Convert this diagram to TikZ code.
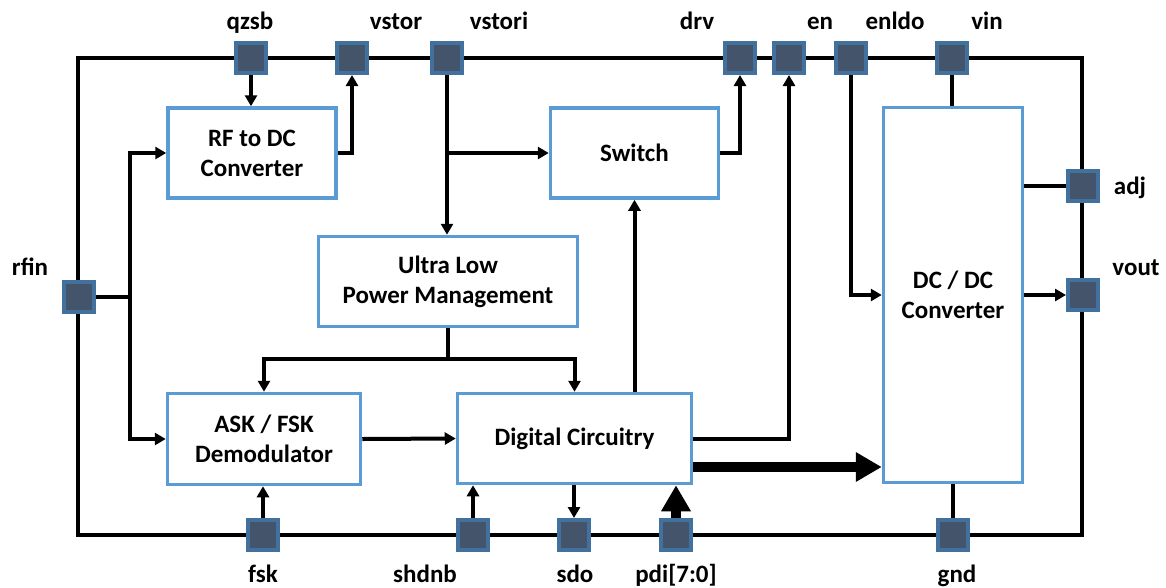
\documentclass[tikz,border=0pt]{standalone}
\usepackage{fontspec}
\setmainfont{Carlito}
\usetikzlibrary{calc,arrows.meta}
\definecolor{boxblue}{HTML}{5B9BD5}
\definecolor{pinedge}{HTML}{41719C}
\definecolor{pinfill}{HTML}{44546A}
\tikzset{%
  block/.style={rectangle,draw=boxblue,line width=3.5pt,fill=white,align=center,
    font=\bfseries\fontsize{25}{30}\selectfont},
  pin/.style={rectangle,minimum size=30pt,inner sep=0pt,draw=pinedge,line width=4pt,fill=pinfill},
  pinname/.style={anchor=base,inner sep=0pt,font=\bfseries\fontsize{25}{30}\selectfont},
  wire/.style={line width=4pt},
  sig/.style={wire,-{Triangle[length=11pt,width=12pt]}},
  bus/.style={line width=10pt,-{Triangle[length=26pt,width=28pt]}}
}

\begin{document}
\begin{tikzpicture}[x=1pt,y=-1pt]
      \useasboundingbox (0,0) rectangle (1166,587);
      \draw [wire] (78,58) rectangle (1082,535);

      \node [block,minimum width=168pt,minimum height=90pt] (rfdc)    at (252,153) {RF to DC\\Converter};
      \node [block,minimum width=168pt,minimum height=90pt] (switch)  at (634.5,153) {Switch};
      \node [block,minimum width=259pt,minimum height=90pt] (ulpm)    at (448,281.5) {Ultra Low\\Power Management};
      \node [block,minimum width=193pt,minimum height=91pt] (demod)   at (264,439) {ASK / FSK\\Demodulator};
      \node [block,minimum width=234pt,minimum height=90pt] (digital) at (574.5,438.5) {Digital Circuitry};
      \node [block,minimum width=139pt,minimum height=375pt] (dcdc)   at (953,295) {DC / DC\\Converter};

      \node [pin] (qzsb)   at (251,58) {};
      \node [pin] (vstor)  at (352,58) {};
      \node [pin] (vstori) at (447,58) {};
      \node [pin] (drv)    at (740,58) {};
      \node [pin] (en)     at (789,58) {};
      \node [pin] (enldo)  at (851,58) {};
      \node [pin] (vin)    at (952,58) {};
      \node [pin] (adj)    at (1083,186) {};
      \node [pin] (vout)   at (1083,295) {};
      \node [pin] (rfin)   at (79,297) {};
      \node [pin] (fsk)    at (263,535) {};
      \node [pin] (shdnb)  at (473,535) {};
      \node [pin] (sdo)    at (574,535) {};
      \node [pin] (pdi)    at (676,535) {};
      \node [pin] (gnd)    at (953,535) {};

      \node [pinname] (qzsb-name)   at (250,29) {qzsb};
      \node [pinname] (vstor-name)  at (396,29) {vstor};
      \node [pinname] (vstori-name) at (499,29) {vstori};
      \node [pinname] (drv-name)    at (697,29) {drv};
      \node [pinname] (en-name)     at (820,29) {en};
      \node [pinname] (enldo-name)  at (895,29) {enldo};
      \node [pinname] (vin-name)    at (987,29) {vin};
      \node [pinname] (adj-name)    at (1130,194) {adj};
      \node [pinname] (vout-name)   at (1136,275) {vout};
      \node [pinname] (rfin-name)   at (30,275) {rfin};
      \node [pinname] (fsk-name)    at (263,582) {fsk};
      \node [pinname] (shdnb-name)  at (425,582) {shdnb};
      \node [pinname] (sdo-name)    at (575,582) {sdo};
      \node [pinname] (pdi-name)    at (676,582) {pdi[7:0]};
      \node [pinname] (gnd-name)    at (957,582) {gnd};

      \coordinate (rfsplit) at (130,297);
      \coordinate (pmsplit) at (448,359);
      \coordinate (busline) at (0,467);

      % top side
      \draw [sig] (qzsb.south) -- (qzsb.south |- rfdc.north);
      \draw [sig] (rfdc.east) -| (vstor.south);
      \draw [sig] (vstori.south) -- (vstori.south |- ulpm.north);
      \draw [sig] (vstori.south |- switch.west) -- (switch.west);
      \draw [sig] (switch.east) -| (drv.south);
      \draw [sig] (digital.east) -| (en.south);
      \draw [sig] (enldo.south) |- (dcdc.west);
      \draw [wire] (vin.south) -- (vin.south |- dcdc.north);

      % left side
      \draw [wire] (rfin.east) -- (rfsplit);
      \draw [sig] (rfsplit) |- (rfdc.west);
      \draw [sig] (rfsplit) |- (demod.west);

      % middle
      \draw [wire] (ulpm.south) -- (pmsplit);
      \draw [sig] (pmsplit) -| (demod.north);
      \draw [sig] (pmsplit) -| (digital.north);
      \draw [sig] (demod.east) -- (digital.west);
      \draw [sig] (digital.north -| switch.south) -- (switch.south);
      \draw [bus] (digital.east |- busline) -- (dcdc.west |- busline);

      % right side
      \draw [wire] (dcdc.east |- adj) -- (adj.west);
      \draw [sig] (dcdc.east |- vout) -- (vout.west);

      % bottom side
      \draw [sig] (fsk.north) -- (fsk.north |- demod.south);
      \draw [sig] (shdnb.north) -- (shdnb.north |- digital.south);
      \draw [sig] (sdo.north |- digital.south) -- (sdo.north);
      \draw [bus] (pdi.north) -- (pdi.north |- digital.south);
      \draw [wire] (gnd.north) -- (gnd.north |- dcdc.south);
\end{tikzpicture}
\end{document}
